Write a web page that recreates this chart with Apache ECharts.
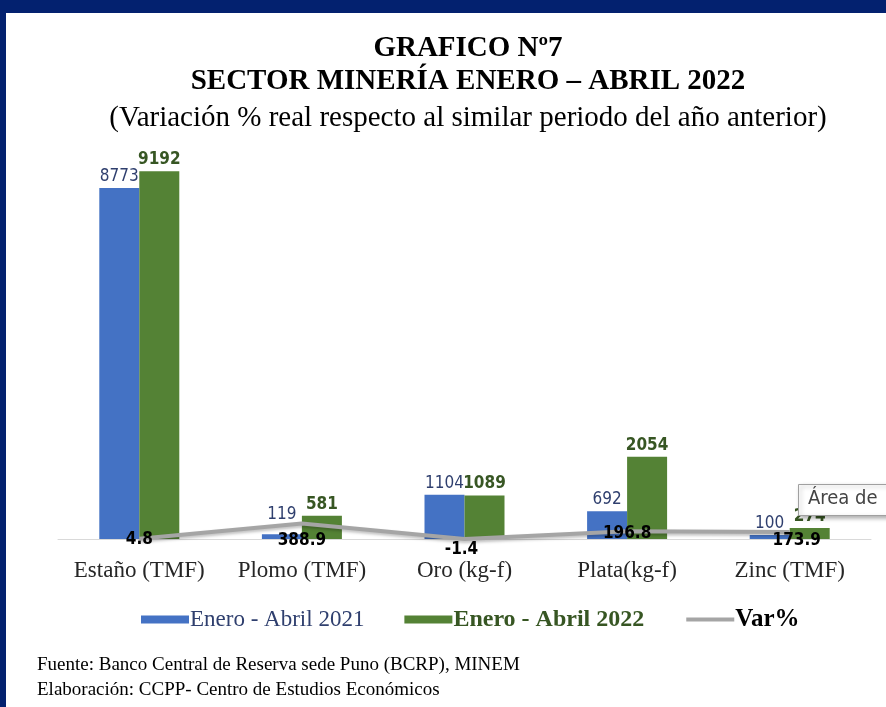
<!DOCTYPE html>
<html>
<head>
<meta charset="utf-8">
<script src="https://cdn.jsdelivr.net/npm/echarts@6/dist/echarts.min.js"></script>
<style>
html,body{margin:0;padding:0;background:#fff;}
#chart{width:886px;height:707px;}
</style>
</head>
<body>
<div id="chart"></div>
<script>
// datos del grafico
var categorias = ['Estaño (TMF)', 'Plomo (TMF)', 'Oro (kg-f)', 'Plata(kg-f)', 'Zinc (TMF)'];
var enero2021 = [8773, 119, 1104, 692, 100];
var enero2022 = [9192, 581, 1089, 2054, 274];
var varPct = [4.8, 388.9, -1.4, 196.8, 173.9];

// desplazamiento de etiquetas (como en Excel, colocadas a mano)
var varLabelOffsets = [[0, 1], [0, 17], [-3, 11], [0, 2], [7, 9]];
var azulLabelOffsets = [[0, 0], [0, -8], [0, 0], [0, 0], [0, 0]];

var labelFont = '"Liberation Sans Narrow", "DejaVu Sans Condensed", sans-serif';
var serif = '"Liberation Serif", "DejaVu Serif", serif';

var chart = echarts.init(document.getElementById('chart'));
var option = {
	backgroundColor: '#ffffff',
	animation: false,
	title: [
		{
			text: 'GRAFICO Nº7\nSECTOR MINERÍA ENERO – ABRIL 2022',
			left: 463, top: 27, textAlign: 'center',
			textStyle: { fontFamily: serif, fontSize: 29, fontWeight: 'bold', color: '#000', lineHeight: 33 }
		},
		{
			text: '(Variación % real respecto al similar periodo del año anterior)',
			left: 463, top: 97, textAlign: 'center',
			textStyle: { fontFamily: serif, fontSize: 29, fontWeight: 'normal', color: '#000', lineHeight: 32 }
		}
	],
	legend: {
		top: 602,
		left: 136,
		itemGap: 40,
		itemWidth: 48,
		itemHeight: 8,
		data: [
			{ name: 'Enero - Abril 2021', icon: 'rect', textStyle: { color: '#2F3F6E', fontWeight: 'normal' } },
			{ name: 'Enero - Abril 2022', icon: 'rect', textStyle: { color: '#375623', fontWeight: 'bold', fontSize: 24 } },
			{ name: 'Var%', itemStyle: { color: '#A5A5A5', opacity: 0 }, lineStyle: { width: 4, color: '#A5A5A5' }, textStyle: { color: '#000', fontWeight: 'bold', fontSize: 25 } }
		],
		textStyle: { fontFamily: serif, fontSize: 23, padding: [0, 0, 0, -4] }
	},
	grid: { left: 58, right: 15, top: 139, bottom: 160 },
	xAxis: {
		type: 'category',
		data: categorias,
		axisTick: { show: false },
		axisLine: { lineStyle: { color: '#D9D9D9', width: 1 } },
		axisLabel: { interval: 0, fontFamily: serif, fontSize: 23, color: '#262626', margin: 12 }
	},
	yAxis: {
		type: 'value',
		min: -200,
		max: 10000,
		show: false,
		splitLine: { show: false }
	},
	series: [
		{
			name: 'Enero - Abril 2021',
			type: 'bar',
			data: enero2021.map(function (v, i) {
				return { value: v, label: { offset: azulLabelOffsets[i] } };
			}),
			barWidth: 40,
			barGap: '0%',
			itemStyle: { color: '#4472C4' },
			label: { show: true, position: 'top', distance: 3, fontFamily: labelFont, fontSize: 17, color: '#2F3F6E' }
		},
		{
			name: 'Enero - Abril 2022',
			type: 'bar',
			data: enero2022,
			barWidth: 40,
			itemStyle: { color: '#548235' },
			label: { show: true, position: 'top', distance: 3, fontFamily: labelFont, fontSize: 17, fontWeight: 'bold', color: '#375623' }
		},
		{
			name: 'Var%',
			type: 'line',
			data: varPct.map(function (v, i) {
				return { value: v, label: { offset: varLabelOffsets[i] } };
			}),
			symbol: 'circle',
			symbolSize: 1,
			showSymbol: true,
			clip: false,
			z: 5,
			lineStyle: { color: '#A5A5A5', width: 4, shadowColor: 'rgba(0,0,0,0.25)', shadowBlur: 3, shadowOffsetY: 2 },
			itemStyle: { color: 'rgba(165,165,165,0)' },
			label: { show: true, position: 'inside', fontFamily: labelFont, fontSize: 17, fontWeight: 'bold', color: '#000' }
		}
	],
	graphic: [
		{ type: 'rect', left: 0, top: 0, z: 100, shape: { width: 886, height: 13 }, style: { fill: '#03216F' } },
		{ type: 'rect', left: 0, top: 0, z: 100, shape: { width: 6, height: 707 }, style: { fill: '#03216F' } },
		{
			type: 'rect', left: 798, top: 484, z: 100,
			shape: { width: 100, height: 31 },
			style: { fill: '#fff', stroke: '#A0A0A0', lineWidth: 1, shadowColor: 'rgba(0,0,0,0.3)', shadowBlur: 4, shadowOffsetX: 2, shadowOffsetY: 2 }
		},
		{
			type: 'text', left: 808, top: 489, z: 101,
			style: { text: 'Área de', font: '20px "DejaVu Sans Condensed", "Noto Sans", sans-serif', fill: '#444' }
		},
		{
			type: 'text', left: 37, top: 656, z: 100,
			style: { text: 'Fuente: Banco Central de Reserva sede Puno (BCRP), MINEM', font: '19px "Liberation Serif", serif', fill: '#000' }
		},
		{
			type: 'text', left: 37, top: 681, z: 100,
			style: { text: 'Elaboración: CCPP- Centro de Estudios Económicos', font: '19px "Liberation Serif", serif', fill: '#000' }
		}
	]
};
chart.setOption(option);
window.addEventListener('resize', function () {
	chart.resize();
});
</script>
</body>
</html>
